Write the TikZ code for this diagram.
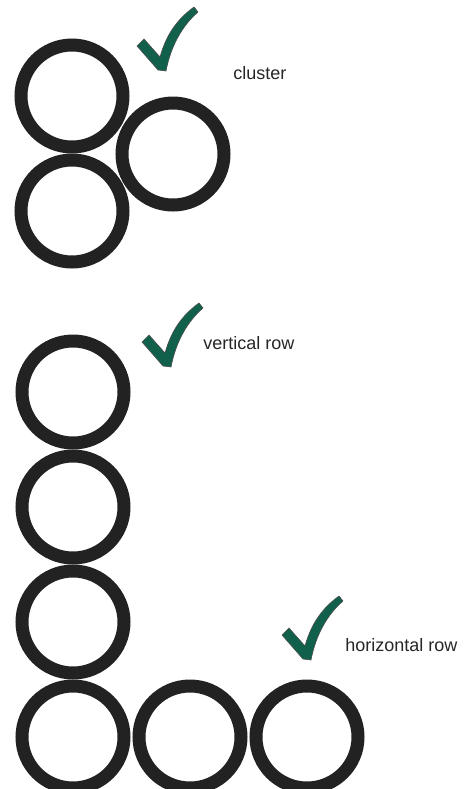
\documentclass[tikz,border=0pt]{standalone}
\usepackage{fontspec}
\setmainfont{Liberation Sans}
\definecolor{tickgreen}{RGB}{16,96,76}
\definecolor{ringgray}{RGB}{34,34,34}
\begin{document}
\begin{tikzpicture}[x=0.5pt, y=-0.5pt, font=\fontsize{9}{11}\selectfont,
  ring/.style={circle, draw=ringgray, line width=6.5pt, minimum size=51pt, inner sep=0pt},
  tag/.style={anchor=west, inner sep=0pt, text=black!85},
  tick/.pic={\fill[tickgreen, draw=black!70, line width=0.3pt] (-3,0) -- (-24,-24) -- (-17,-31) -- (-1,-13)
      .. controls (6,-38) and (18,-52) .. (33,-63) -- (37,-58)
      .. controls (22,-45) and (10,-25) .. (5,1) -- cycle;}]
  \useasboundingbox (0,0) rectangle (465,789);
  % cluster
  \node[ring] (clA) at (72,96) {};
  \node[ring] (clB) at (72,211) {};
  \node[ring] (clC) at (173,154) {};
  \pic at (161,70) {tick};
  \node[tag] (cluster) at (233,73) {cluster};
  % vertical row
  \node[ring] (vrA) at (73,392) {};
  \node[ring] (vrB) at (73,507) {};
  \node[ring] (vrC) at (73,622) {};
  \node[ring] (corner) at (73,737) {};
  \pic at (166,366) {tick};
  \node[tag] (vertical) at (203,343) {vertical row};
  % horizontal row
  \node[ring] (hrA) at (190,737) {};
  \node[ring] (hrB) at (307,737) {};
  \pic at (306,659) {tick};
  \node[tag] (horizontal) at (345,645) {horizontal row};
\end{tikzpicture}
\end{document}
